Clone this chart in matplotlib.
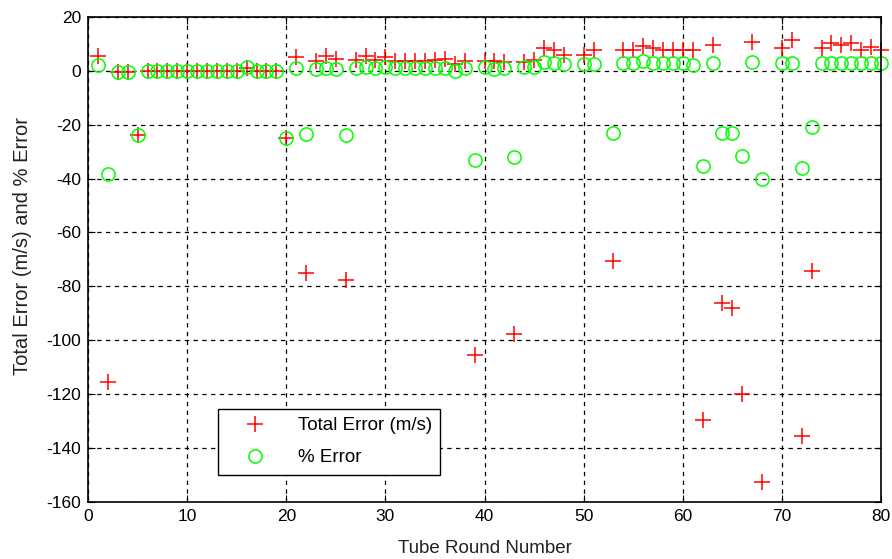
import matplotlib
matplotlib.use("Agg")
import matplotlib.pyplot as plt

plt.rcParams['font.family'] = ['Liberation Sans', 'DejaVu Sans']
plt.rcParams['axes.unicode_minus'] = False

# tube round numbers (49, 52 and 69 have no data in the picture)
rounds = [1, 2, 3, 4, 5, 6, 7, 8, 9, 10, 11, 12, 13, 14, 15, 16, 17, 18, 19, 20,
          21, 22, 23, 24, 25, 26, 27, 28, 29, 30, 31, 32, 33, 34, 35, 36, 37, 38, 39, 40,
          41, 42, 43, 44, 45, 46, 47, 48, 50, 51, 53, 54, 55, 56, 57, 58, 59, 60,
          61, 62, 63, 64, 65, 66, 67, 68, 70, 71, 72, 73, 74, 75, 76, 77, 78, 79, 80]

total_error = [5.5, -115.5, -0.5, -0.5, -24, 0, 0, 0, 0, 0, 0, 0, 0, 0, 0, 1, 0, 0, 0, -25,
               5, -75, 3.6, 5.5, 4.5, -77.5, 4, 5.5, 4, 5, 3.5, 3.5, 3.5, 3.5, 4, 4.5, 2.5, 3.5, -105.5, 3.5,
               3.5, 3.3, -97.5, 3.3, 4, 8.3, 7.6, 6, 6, 7.6, -70.7, 7.6, 7.6, 9.2, 8.6, 7.6, 7.6, 7.6,
               7.6, -129.5, 9.5, -86, -88, -120, 10.7, -152.5, 8.3, 11.3, -135.5, -74.2, 8.3, 10.1, 9.5, 10.1, 7.6, 8.9, 7.6]

pct_error = [2, -38.5, -0.5, -0.5, -24, 0, 0, 0, 0, 0, 0, 0, 0, 0, 0, 1.5, 0, 0, 0, -25,
             1, -23.5, 0.8, 1, 0.8, -24, 1, 1.2, 1, 1.2, 1, 1, 1, 1, 1, 1, -0.3, 1, -33, 1.5,
             0.5, 1, -32, 1.5, 1.5, 3.3, 3, 2.5, 2.5, 2.5, -23, 2.7, 2.7, 3.6, 2.7, 2.7, 2.7, 2.7,
             2, -35.5, 2.7, -23, -23, -31.5, 3.3, -40.3, 2.7, 3, -36.2, -20.8, 2.7, 2.7, 2.7, 2.7, 2.7, 2.7, 2.7]

fig = plt.figure(figsize=(8.92, 5.59), dpi=100)
ax = fig.add_axes([0.0987, 0.102, 0.889, 0.868])

ax.plot(rounds, total_error, '+', color='red', markersize=11, markeredgewidth=1.1,
        label='Total Error (m/s)', clip_on=False)
ax.plot(rounds, pct_error, 'o', color='#00ff00', markerfacecolor='none', markersize=9.5,
        markeredgewidth=1.1, label='% Error', clip_on=False)

ax.set_xlim(0, 80)
ax.set_ylim(-160, 20)
ax.set_xticks(range(0, 81, 10))
ax.set_yticks(range(-160, 21, 20))
ax.grid(True, color='black', linestyle=(0, (3.5, 3.5)), linewidth=0.9)
ax.set_axisbelow(True)
ax.tick_params(direction='in', top=True, right=True, length=5, labelsize=12.5, pad=5)
for s in ax.spines.values():
    s.set_linewidth(1.2)

ax.set_xlabel('Tube Round Number', fontsize=13.5, color='#222222')
ax.set_ylabel('Total Error (m/s) and % Error', fontsize=14.5, color='#222222')
ax.xaxis.set_label_coords(0.5, -0.078)
ax.yaxis.set_label_coords(-0.071, 0.528)

leg = ax.legend(loc='lower left', bbox_to_anchor=(0.164, 0.056), borderaxespad=0,
                fancybox=False, edgecolor='black', framealpha=1, fontsize=13.5,
                handlelength=3.0, borderpad=0.45, labelspacing=0.8, handletextpad=0.8)
leg.get_frame().set_linewidth(1.0)

fig.savefig('out.png', dpi=100)
